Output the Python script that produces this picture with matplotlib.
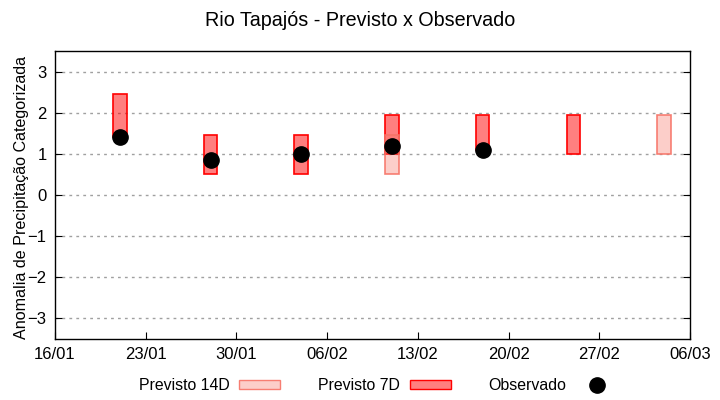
import matplotlib

matplotlib.use("Agg")
import matplotlib.pyplot as plt
import matplotlib.dates as mdates
import numpy as np
from datetime import datetime, timedelta
from matplotlib.lines import Line2D
from matplotlib.patches import Patch

plt.rcParams["font.family"] = ["Liberation Sans", "DejaVu Sans"]

# forecast dates and ranges (7-day lead)
dates_7d = ["21/01", "28/01", "04/02", "11/02", "18/02", "25/02"]
low_7d = [1.4, 0.5, 0.5, 1.0, 1.1, 1.0]
high_7d = [2.45, 1.45, 1.45, 1.95, 1.95, 1.95]

# 14-day lead
dates_14d = ["11/02", "04/03"]
low_14d = [0.5, 1.0]
high_14d = [1.45, 1.95]

# observed
dates_obs = ["21/01", "28/01", "04/02", "11/02", "18/02"]
obs = [1.42, 0.85, 1.0, 1.18, 1.1]


def to_date(s):
    return datetime.strptime(s + "/2023", "%d/%m/%Y")


c14_face = (0.97, 0.45, 0.4, 0.35)
c14_edge = (0.97, 0.45, 0.4, 0.9)
c7_face = (1, 0, 0, 0.5)

fig = plt.figure(figsize=(7.2, 4), dpi=100)
ax = fig.add_axes([0.0764, 0.1525, 0.882, 0.72])

width = 1.05
x7 = mdates.date2num([to_date(d) for d in dates_7d])
ax.bar(x7, np.array(high_7d) - np.array(low_7d), bottom=low_7d, width=width,
       facecolor=c7_face, edgecolor="red", linewidth=1.2, zorder=3)

x14 = mdates.date2num([to_date(d) for d in dates_14d])
ax.bar(x14, np.array(high_14d) - np.array(low_14d), bottom=low_14d, width=width,
       facecolor=c14_face, edgecolor=c14_edge, linewidth=1.2, zorder=4)

xo = mdates.date2num([to_date(d) for d in dates_obs])
ax.plot(xo, obs, "o", color="black", markersize=11, zorder=5)

start = to_date("16/01")
ax.set_xlim(mdates.date2num(start), mdates.date2num(start + timedelta(days=49)))
ax.set_ylim(-3.5, 3.5)
ax.set_xticks([mdates.date2num(start + timedelta(days=7 * i)) for i in range(8)])
ax.xaxis.set_major_formatter(mdates.DateFormatter("%d/%m"))
ax.set_yticks(range(-3, 4))
ax.tick_params(direction="in", length=5, labelsize=12, top=False, right=True,
               pad=6)
ax.grid(axis="y", color="#a0a0a0", linestyle=(0, (2, 3)), linewidth=1)
ax.set_axisbelow(True)
for sp in ax.spines.values():
    sp.set_linewidth(1)

ax.set_ylabel("Anomalia de Precipitação Categorizada", fontsize=11.6)
ax.yaxis.set_label_coords(-0.041, 0.49)
fig.suptitle("Rio Tapajós - Previsto x Observado", fontsize=14.2, y=0.972)

handles = [
    Patch(facecolor=c14_face, edgecolor=c14_edge),
    Patch(facecolor=c7_face, edgecolor="red"),
    Line2D([], [], marker="o", color="black", linestyle="none", markersize=11),
]
fig.legend(handles, ["Previsto 14D", "Previsto 7D", "Observado"], loc="center",
           bbox_to_anchor=(0.525, 0.035), ncol=3, frameon=False, fontsize=11.4,
           markerfirst=False, handlelength=2.6, handleheight=0.5,
           columnspacing=2.4, handletextpad=0.6)

fig.savefig("out.png", dpi=100)
